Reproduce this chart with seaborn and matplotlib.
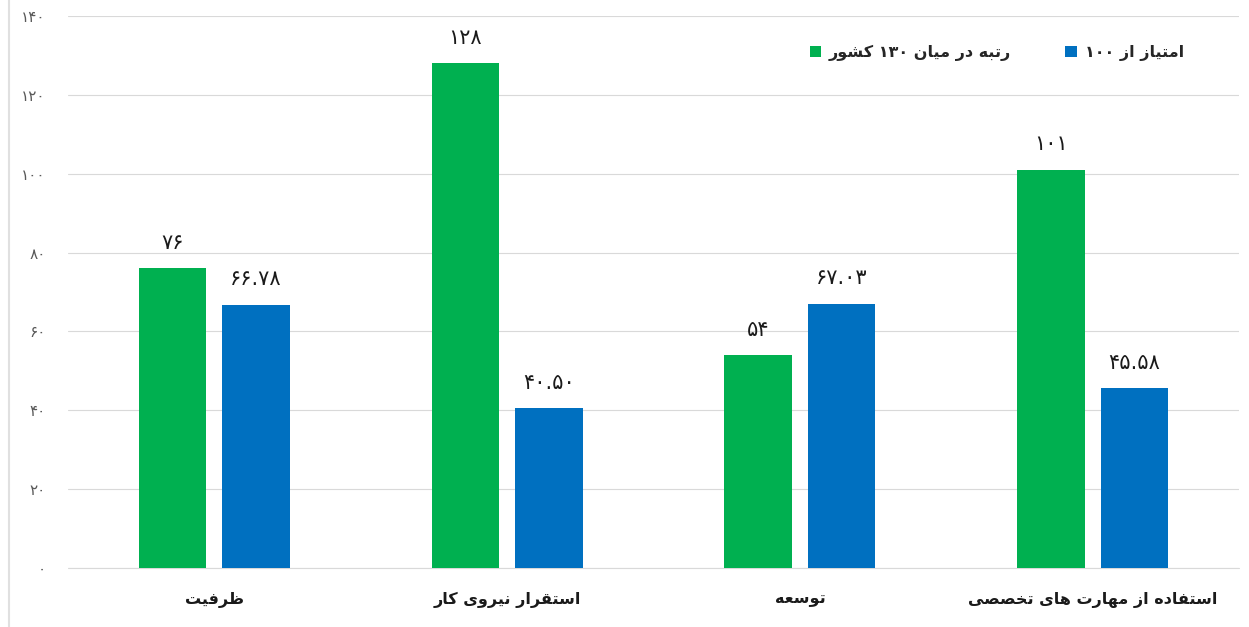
import re

import matplotlib.pyplot as plt
import pandas as pd
import seaborn as sns
from matplotlib.lines import Line2D

categories = ["ظرفیت", "استقرار نیروی کار", "توسعه", "استفاده از مهارت های تخصصی"]
series_names = ["رتبه در میان ۱۳۰ کشور", "امتیاز از ۱۰۰"]
rank_values = [76, 128, 54, 101]
score_values = [66.78, 40.50, 67.03, 45.58]
y_ticks = [0, 20, 40, 60, 80, 100, 120, 140]
colors = ["#00B050", "#0070C0"]

# presentation forms: isolated, final, initial, medial
FORMS = {
    "ا": (0xFE8D, 0xFE8E), "د": (0xFEA9, 0xFEAA), "ر": (0xFEAD, 0xFEAE),
    "ز": (0xFEAF, 0xFEB0), "و": (0xFEED, 0xFEEE),
    "ب": (0xFE8F, 0xFE90, 0xFE91, 0xFE92), "ت": (0xFE95, 0xFE96, 0xFE97, 0xFE98),
    "خ": (0xFEA5, 0xFEA6, 0xFEA7, 0xFEA8), "س": (0xFEB1, 0xFEB2, 0xFEB3, 0xFEB4),
    "ش": (0xFEB5, 0xFEB6, 0xFEB7, 0xFEB8), "ص": (0xFEB9, 0xFEBA, 0xFEBB, 0xFEBC),
    "ظ": (0xFEC5, 0xFEC6, 0xFEC7, 0xFEC8), "ع": (0xFEC9, 0xFECA, 0xFECB, 0xFECC),
    "ف": (0xFED1, 0xFED2, 0xFED3, 0xFED4), "ق": (0xFED5, 0xFED6, 0xFED7, 0xFED8),
    "م": (0xFEE1, 0xFEE2, 0xFEE3, 0xFEE4), "ن": (0xFEE5, 0xFEE6, 0xFEE7, 0xFEE8),
    "ه": (0xFEE9, 0xFEEA, 0xFEEB, 0xFEEC), "ی": (0xFBFC, 0xFBFD, 0xFBFE, 0xFBFF),
    "ک": (0xFB8E, 0xFB8F, 0xFB90, 0xFB91),
}
FA_DIGITS = str.maketrans("0123456789", "۰۱۲۳۴۵۶۷۸۹")


def shape(text):
    # minimal arabic shaping + rtl reordering, matplotlib does neither
    out = []
    for i, ch in enumerate(text):
        if ch not in FORMS:
            out.append(ch)
            continue
        forms = FORMS[ch]
        prev = text[i - 1] if i > 0 else ""
        nxt = text[i + 1] if i + 1 < len(text) else ""
        join_prev = prev in FORMS and len(FORMS[prev]) == 4
        join_next = len(forms) == 4 and nxt in FORMS
        if join_prev and join_next:
            f = forms[3]
        elif join_prev:
            f = forms[1]
        elif join_next:
            f = forms[2]
        else:
            f = forms[0]
        out.append(chr(f))
    vis = "".join(out)[::-1]
    return re.sub("[۰-۹.]+", lambda m: m.group(0)[::-1], vis)


df = pd.DataFrame({
    "Category": categories * 2,
    "Series": [series_names[0]] * 4 + [series_names[1]] * 4,
    "Value": rank_values + score_values,
})

sns.set_style("white")
plt.rcParams["font.family"] = ["DejaVu Sans"]

fig = plt.figure(figsize=(12.49, 6.27), dpi=100)
ax = fig.add_axes([68 / 1249, 1 - 568 / 627, 1171 / 1249, 552 / 627])

sns.barplot(data=df, x="Category", y="Value", hue="Series", order=categories,
            hue_order=series_names, palette=colors, width=0.57, gap=0.19,
            saturation=1, linewidth=0, ax=ax)

for cont, vals, fmt in zip(ax.containers, [rank_values, score_values], ["{:g}", "{:.2f}"]):
    ax.bar_label(cont, labels=[fmt.format(v).translate(FA_DIGITS) for v in vals],
                 padding=11, fontsize=15, color="#1a1a1a")

ax.set_ylim(0, 140)
ax.set_yticks(y_ticks, [str(t).translate(FA_DIGITS) for t in y_ticks])
ax.set_xticks(range(len(categories)), [shape(c) for c in categories])
ax.tick_params(axis="y", length=0, pad=16, labelsize=11, labelcolor="#595959")
ax.tick_params(axis="x", length=0, pad=17, labelsize=11.5, labelcolor="#1a1a1a")
for lbl in ax.get_xticklabels():
    lbl.set_fontweight("bold")
ax.set_xlabel("")
ax.set_ylabel("")
ax.grid(axis="y", color="#d9d9d9", linewidth=0.8)
ax.axhline(0, color="#d9d9d9", linewidth=0.8, zorder=0.5, clip_on=False)
ax.set_axisbelow(True)
sns.despine(ax=ax, left=True, bottom=True)

handles, labels = ax.get_legend_handles_labels()
ax.legend(handles, [shape(l) for l in labels], ncol=2, frameon=False,
          loc="center right", bbox_to_anchor=(0.965, 0.933), handlelength=0.7,
          handleheight=0.7, handletextpad=0.5, columnspacing=3.4,
          prop={"size": 11.5, "weight": "bold"})

fig.add_artist(Line2D([9 / 1249, 9 / 1249], [0, 1], color="#e0e0e0", linewidth=1.5))

fig.savefig("out.png", dpi=100)
